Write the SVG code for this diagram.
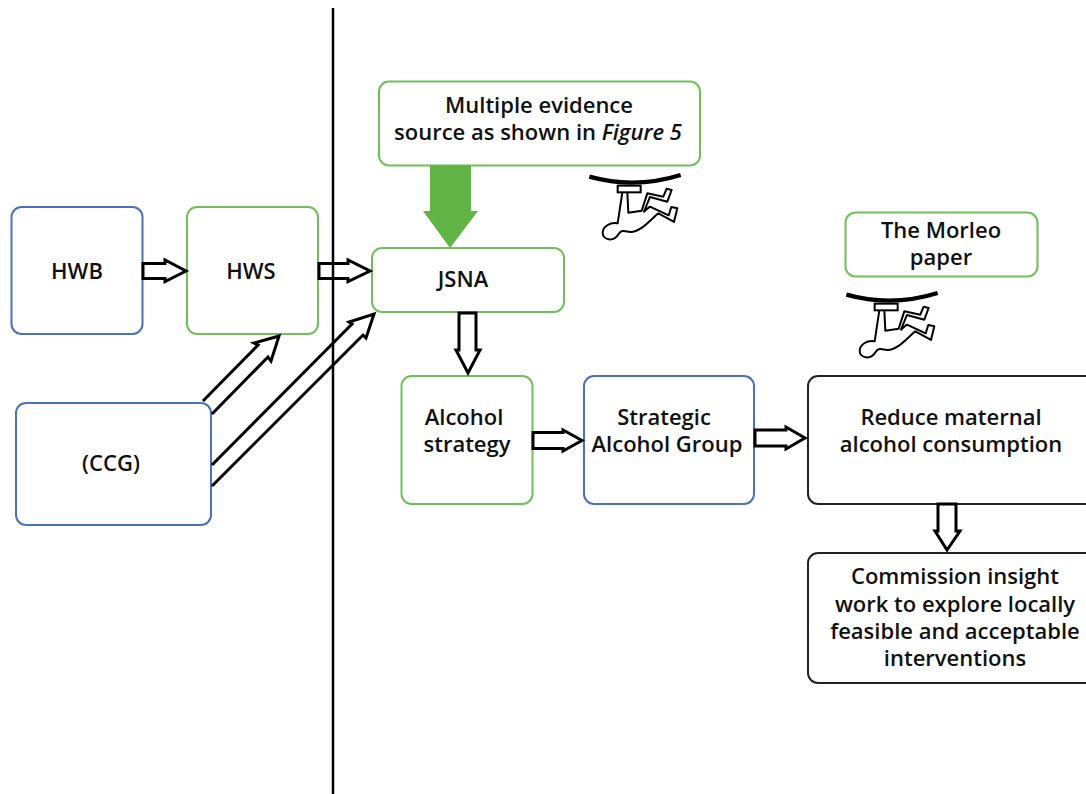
<svg xmlns="http://www.w3.org/2000/svg" width="1086" height="794" viewBox="0 0 1086 794">
<style>
.g{stroke:#70c05a}.b{stroke:#4a72bc}.k{stroke:#222}
.n{fill:#fff;stroke-width:2}
text{font-family:"Open Sans","Noto Sans","Liberation Sans",sans-serif;font-size:22px;font-weight:570;fill:#111;text-anchor:middle}
.a{fill:#fff;stroke:#000;stroke-width:3;stroke-linejoin:miter}
.d{fill:none;stroke:#000;stroke-width:3;stroke-linejoin:miter}
</style>
<defs>
<g id="climber">
<path d="M58 50Q195 88 332 45" fill="none" stroke="#000" stroke-width="13"/>
<path d="M157 97L143 190C120 186 98 200 98 218C98 240 130 248 146 222C155 208 165 214 180 216C210 218 240 180 265 160L312 186L322 145L304 141L296 166L240 140C232 146 228 150 222 155L240 111L292 125L305 90L290 86L280 110L232 100L215 152L175 158L172 97" fill="#fff" stroke="#000" stroke-width="6" stroke-linejoin="round"/>
<rect x="143" y="77" width="69" height="20" fill="#fff" stroke="#000" stroke-width="6"/>
</g>
</defs>
<g id="nodes">
<g id="hwb"><rect class="n b" x="11.500" y="207" width="131" height="127" rx="10"/><text x="77" y="279">HWB</text></g>
<g id="hws"><rect class="n g" x="187" y="207" width="131" height="127" rx="10"/><text x="251" y="279">HWS</text></g>
<g id="ccg"><rect class="n b" x="16" y="403" width="195" height="122" rx="10"/><text x="111" y="471">(CCG)</text></g>
<g id="evidence"><rect class="n g" x="379" y="81.500" width="321" height="84" rx="10"/><text x="539" y="113">Multiple evidence</text><text x="538" y="140">source as shown in <tspan font-style="italic">Figure 5</tspan></text></g>
<g id="jsna"><rect class="n g" x="372" y="248" width="192" height="64" rx="10"/><text x="463" y="287" font-weight="700">JSNA</text></g>
<g id="alcohol-strategy"><rect class="n g" x="401.500" y="376" width="131" height="128" rx="10"/><text x="464" y="425">Alcohol</text><text x="467" y="452">strategy</text></g>
<g id="strategic-group"><rect class="n b" x="584" y="376" width="170" height="128" rx="10"/><text x="664" y="425">Strategic</text><text x="667" y="452">Alcohol Group</text></g>
<g id="reduce"><rect class="n k" x="808" y="376" width="290" height="128" rx="10"/><text x="951" y="425">Reduce maternal</text><text x="951" y="452">alcohol consumption</text></g>
<g id="commission"><rect class="n k" x="808" y="553" width="290" height="130" rx="10"/><text x="955" y="584">Commission insight</text><text x="955" y="612">work to explore locally</text><text x="955" y="639">feasible and acceptable</text><text x="955" y="666">interventions</text></g>
<g id="morleo"><rect class="n g" x="845.500" y="212.500" width="192" height="64" rx="10"/><text x="941" y="238">The Morleo</text><text x="941" y="265">paper</text></g>
</g>
<g id="connectors">
<path class="a" d="M143 263.500H165V260L186 271L165 281.500V278.500H143Z"/>
<path class="a" d="M319 263.500H348V260L370 271L348 281.500V278.500H319Z"/>
<path d="M430 165H471V211H478L450 248L423 211H430Z" fill="#62b446"/>
<path class="a" d="M459 313H476V350H480L468 373L456 350H459Z"/>
<path class="a" d="M533 432.500H563V430L582 440.500L563 451V448.500H533Z"/>
<path class="a" d="M755 430H786V427L805 438L786 449V446H755Z"/>
<path class="a" d="M938 504H956V531H960L947 550L935 531H938Z"/>
<path class="d" d="M203 401L258 345L254 343L279 336L271 361L268 357L212 414"/>
<path class="d" d="M212 465L352 324L349 322L374 314L366 338L363 335L212 486"/>
</g>
<path d="M333 8V794" stroke="#000" stroke-width="2.500"/>
<use href="#climber" transform="translate(570 160) scale(.3333)"/>
<use href="#climber" transform="translate(827 278) scale(.3333)"/>
</svg>
